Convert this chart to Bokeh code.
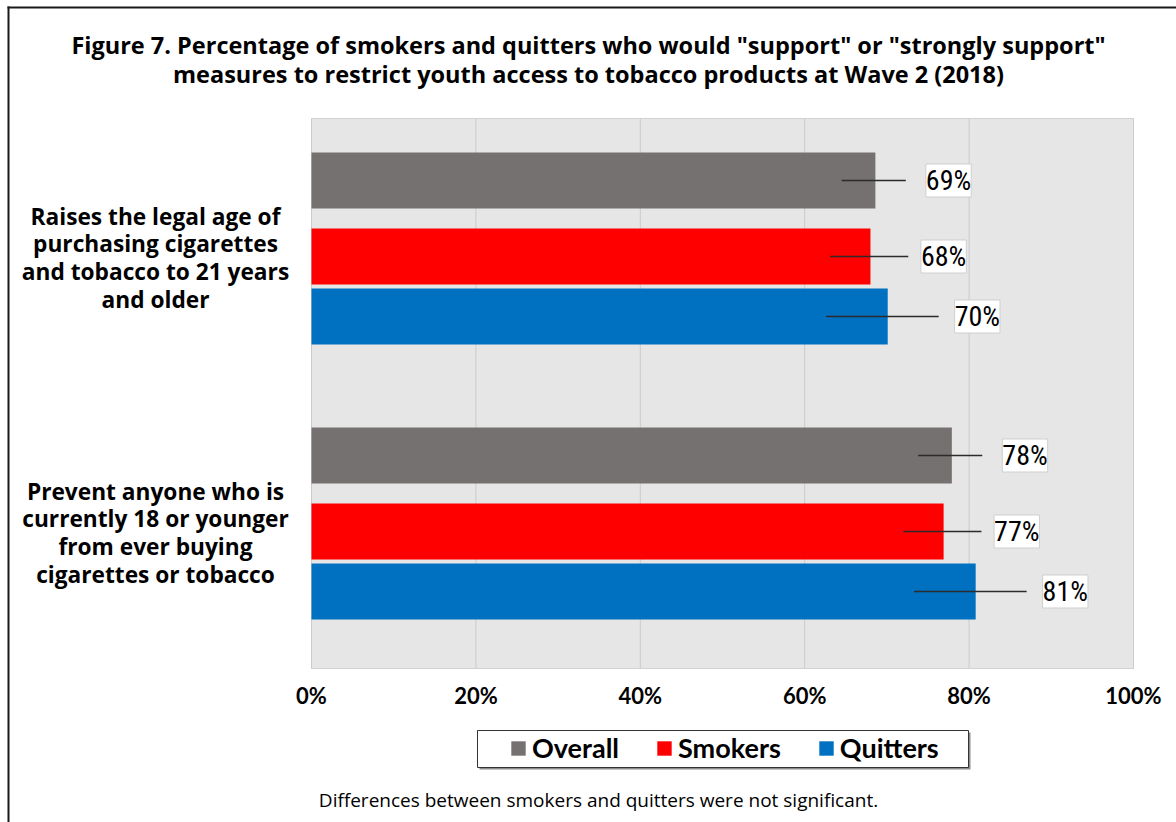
from bokeh.plotting import figure
from bokeh.models import (ColumnDataSource, Range1d, FixedTicker, LabelSet,
                          Legend, LegendItem)
from bokeh.core.properties import value
from bokeh.embed import file_html
from bokeh.resources import INLINE

# ---------------- data ----------------
title_lines = ['Figure 7. Percentage of smokers and quitters who would "support" or "strongly support"',
               'measures to restrict youth access to tobacco products at Wave 2 (2018)']
category_lines = [
    ["Raises the legal age of", "purchasing cigarettes", "and tobacco to 21 years", "and older"],
    ["Prevent anyone who is", "currently 18 or younger", "from ever buying", "cigarettes or tobacco"],
]
series_names = ["Overall", "Smokers", "Quitters"]
overall = [68.6, 77.9]
smokers = [68.0, 76.9]
quitters = [70.1, 80.8]
x_ticks = [0, 20, 40, 60, 80, 100]
x_tick_labels = ["0%", "20%", "40%", "60%", "80%", "100%"]
footnote = "Differences between smokers and quitters were not significant."

# ---------------- layout / style ----------------
W, H = 1176, 822
FL, FR, FT, FB = 311, 1133, 118, 668           # plot-area edges in canvas px
PX = (FR - FL) / 100.0                          # px per x unit
colors = {"Overall": "#767171", "Smokers": "#ff0000", "Quitters": "#0070c0"}
plot_top, plot_bottom = 0.0, 5.5               # y units (1 unit = 100 px)
group_centers = [1.30, 4.05]
series_offset = {"Overall": -0.68, "Smokers": 0.08, "Quitters": 0.68}
bar_h = 0.56
# leader line start/end and label centre relative to bar end (x units)
lead = {"Overall": (-4.1, 3.7, 8.9), "Smokers": (-4.9, 4.6, 8.9), "Quitters": (-7.5, 6.2, 10.9)}
FONT = "Lato"
HEAD_FONT = "Open Sans"


def cx(px):
    return (px - FL) / PX


def cy(px):
    return (px - FT) / 100.0


p = figure(width=W, height=H, output_backend="svg", toolbar_location=None,
           x_range=Range1d(cx(0), cx(W)), y_range=Range1d(cy(H), cy(0)),
           y_axis_location=None, min_border=0)
p.background_fill_color = "white"
p.border_fill_color = "white"
p.outline_line_color = None
p.grid.visible = False

# plot area + vertical grid lines
p.quad(left=[x_ticks[0]], right=[x_ticks[-1]], top=[plot_top], bottom=[plot_bottom],
       fill_color="#e6e6e6", line_color="#d2d2d2", line_width=1)
p.segment(x0=x_ticks, x1=x_ticks, y0=[plot_top] * len(x_ticks), y1=[plot_bottom] * len(x_ticks),
          line_color="#cbcbcb", line_width=1)

xa = p.xaxis[0]
xa.fixed_location = plot_bottom
xa.ticker = FixedTicker(ticks=x_ticks)
xa.major_label_overrides = {t: l for t, l in zip(x_ticks, x_tick_labels)}
xa.axis_line_color = None
xa.major_tick_line_color = None
xa.minor_tick_line_color = None
xa.major_tick_out = 0
xa.major_tick_in = 0
xa.major_label_standoff = 13
xa.major_label_text_font = FONT
xa.major_label_text_font_style = "bold"
xa.major_label_text_font_size = "22px"
xa.major_label_text_color = "black"

# page border (top and left rules)
p.quad(left=[cx(7), cx(7)], right=[cx(W), cx(9)], top=[cy(6), cy(6)], bottom=[cy(8), cy(H)],
       fill_color="#1a1a1a", line_color=None)

legend_items = []
for name, vals in zip(series_names, [overall, smokers, quitters]):
    ys = [g + series_offset[name] for g in group_centers]
    a, b, c = lead[name]
    src = ColumnDataSource(dict(
        y=ys, v=vals,
        x0=[v + a for v in vals], x1=[v + b for v in vals],
        lx=[v + c for v in vals],
        lab=[f"{round(v)}%" for v in vals]))
    r = p.hbar(y="y", left=0, right="v", height=bar_h, source=src,
               fill_color=colors[name], line_color=None)
    legend_items.append(LegendItem(label=name, renderers=[r]))
    p.segment(x0="x0", y0="y", x1="x1", y1="y", source=src,
              line_color="#2b2b2b", line_width=1.5)
    p.add_layout(LabelSet(x="lx", y="y", text="lab", source=src,
                          text_align="center", text_baseline="middle",
                          text_font=value("Liberation Sans Narrow, Roboto Condensed, Roboto"),
                          text_font_size="28px", text_color="black",
                          background_fill_color="white", border_line_color="#cfcfcf"))

# category labels (left of the plot area)
cat_x, cat_y, cat_t = [], [], []
for g, lines in zip(group_centers, category_lines):
    for k, line in enumerate(lines):
        cat_x.append(cx(155))
        cat_y.append(g + (-32.5 + 27.7 * k) / 100.0)
        cat_t.append(line)
p.text(x=cat_x, y=cat_y, text=cat_t, text_align="center", text_baseline="middle",
       text_font=value(HEAD_FONT), text_font_style="bold", text_font_size="22.7px",
       text_color="black")

# title
p.text(x=[cx(588)] * len(title_lines), y=[cy(44 + 29 * k) for k in range(len(title_lines))],
       text=title_lines, text_align="center", text_baseline="middle",
       text_font=value(HEAD_FONT), text_font_style="bold", text_font_size="23.5px",
       text_color="black")

# footnote
p.text(x=[cx(598)], y=[cy(799)], text=[footnote], text_align="center", text_baseline="middle",
       text_font=value(HEAD_FONT), text_font_size="19px", text_color="black")

# legend frame + shadow
p.quad(left=[cx(479)], right=[cx(970)], top=[cy(732)], bottom=[cy(769)],
       fill_color="#8c8c8c", line_color=None)
p.quad(left=[cx(477)], right=[cx(968)], top=[cy(730)], bottom=[cy(767)],
       fill_color="white", line_color="#333333", line_width=1)

legend = Legend(items=legend_items, orientation="horizontal", location=(509, 58),
                label_text_font=FONT, label_text_font_style="bold",
                label_text_font_size="27px", label_text_color="black",
                glyph_width=18, glyph_height=18, label_standoff=5, spacing=36,
                padding=5, margin=0, border_line_color=None,
                background_fill_alpha=0)
p.add_layout(legend)

open("out.html", "w").write(file_html(p, INLINE))
